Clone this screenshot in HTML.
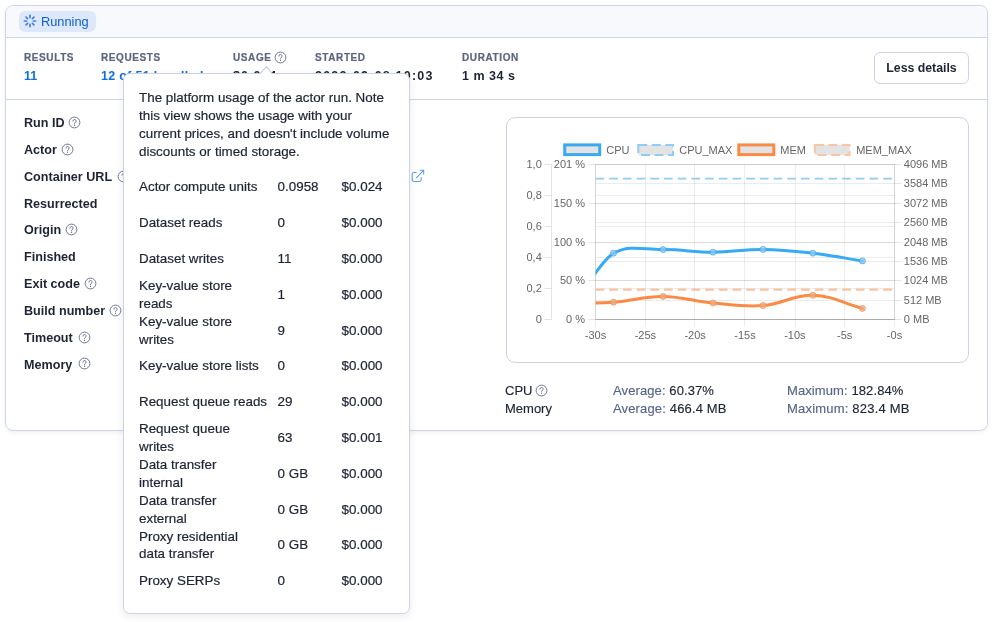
<!DOCTYPE html>
<html><head><meta charset="utf-8">
<style>
*{box-sizing:border-box;margin:0;padding:0}
html,body{width:993px;height:622px;overflow:hidden;background:#fff;font-family:"Liberation Sans",sans-serif;color:#1d2433}
.a{position:absolute;white-space:nowrap}
.lbl{font-size:10px;font-weight:bold;color:#5b6580;letter-spacing:0.6px;line-height:12px;-webkit-text-stroke:0.2px #5b6580}
.val{font-size:12.5px;font-weight:bold;line-height:15px}
.blue{color:#0b6fde}
.rowl{font-size:12.6px;font-weight:bold;line-height:15px;color:#1d2433}
.help{position:absolute;width:13px;height:13px}
.ch{font-size:11px;color:#666;line-height:13px}
.st{font-size:13px;line-height:16px;color:#1d2433;-webkit-text-stroke:0.15px currentColor}
.st .g{color:#55658a}
.tt{position:absolute;font-size:13.4px;line-height:18px;color:#1d2433;white-space:nowrap;-webkit-text-stroke:0.2px #1d2433}
</style></head><body><div style="position:absolute;left:0;top:0;width:993px;height:622px;will-change:transform">
<div class="a" style="left:5px;top:5px;width:983px;height:426px;border:1px solid #ced5ea;border-radius:8px;background:#fff;box-shadow:0 2px 4px rgba(30,40,70,.06);overflow:hidden">
  <div class="a" style="left:0;top:0;width:981px;height:32px;background:#f8f9fc;border-bottom:1px solid #ced5ea"></div>
  <div class="a" style="left:0;top:93px;width:981px;height:1px;background:#ced5ea"></div>
</div>
<div class="a" style="left:19px;top:11px;width:77px;height:21px;background:#dde8fb;border-radius:6px"></div>
<svg class="a" style="left:22px;top:13px" width="16" height="16" viewBox="0 0 16 16"><g stroke="#4680da" stroke-width="1.7" stroke-linecap="round"><line x1="8.00" y1="4.60" x2="8.00" y2="2.40"/><line x1="10.40" y1="5.60" x2="11.96" y2="4.04"/><line x1="11.40" y1="8.00" x2="13.60" y2="8.00"/><line x1="10.40" y1="10.40" x2="11.96" y2="11.96"/><line x1="8.00" y1="11.40" x2="8.00" y2="13.60"/><line x1="5.60" y1="10.40" x2="4.04" y2="11.96"/><line x1="4.60" y1="8.00" x2="2.40" y2="8.00"/><line x1="5.60" y1="5.60" x2="4.04" y2="4.04"/></g></svg>
<div class="a" style="left:41px;top:13.5px;font-size:12.8px;line-height:15px;color:#0c5fd8">Running</div>

<div class="a lbl" style="left:24px;top:52px">RESULTS</div>
<div class="a val blue" style="left:24px;top:69px">11</div>
<div class="a lbl" style="left:101px;top:52px">REQUESTS</div>
<div class="a val blue" style="left:101px;top:69px;letter-spacing:0.3px">12 of 51 handled</div>
<div class="a lbl" style="left:233px;top:52px">USAGE</div>
<svg class="help" style="left:273.7px;top:50.6px" viewBox="0 0 13 13"><circle cx="6.5" cy="6.5" r="5.4" fill="none" stroke="#6b7694" stroke-width="1"/><path d="M4.9 5.1a1.6 1.6 0 1 1 2.2 1.5c-.5.2-.6.5-.6 1v.3" fill="none" stroke="#6b7694" stroke-width="1" stroke-linecap="round"/><circle cx="6.5" cy="9.4" r=".55" fill="#6b7694"/></svg>
<div class="a val" style="left:233px;top:69px;letter-spacing:1px">$0.024</div>
<div class="a lbl" style="left:315px;top:52px">STARTED</div>
<div class="a val" style="left:315px;top:69px;letter-spacing:1.2px">2022-09-08 10:03</div>
<div class="a lbl" style="left:462px;top:52px">DURATION</div>
<div class="a val" style="left:462px;top:69px;letter-spacing:0.5px">1 m 34 s</div>
<div class="a" style="left:874px;top:52px;width:95px;height:32px;border:1px solid #ccd3e6;border-radius:6px;font-size:12.3px;font-weight:bold;line-height:30px;text-align:center;color:#1d2433">Less details</div>

<div class="a rowl" style="left:24px;top:116px">Run ID</div>
<div class="a rowl" style="left:24px;top:143px">Actor</div>
<div class="a rowl" style="left:24px;top:170px">Container URL</div>
<div class="a rowl" style="left:24px;top:197px">Resurrected</div>
<div class="a rowl" style="left:24px;top:223px">Origin</div>
<div class="a rowl" style="left:24px;top:250px">Finished</div>
<div class="a rowl" style="left:24px;top:277px">Exit code</div>
<div class="a rowl" style="left:24px;top:304px">Build number</div>
<div class="a rowl" style="left:24px;top:331px">Timeout</div>
<div class="a rowl" style="left:24px;top:358px">Memory</div>
<svg class="help" style="left:67.7px;top:115.7px" viewBox="0 0 13 13"><circle cx="6.5" cy="6.5" r="5.4" fill="none" stroke="#6b7694" stroke-width="1"/><path d="M4.9 5.1a1.6 1.6 0 1 1 2.2 1.5c-.5.2-.6.5-.6 1v.3" fill="none" stroke="#6b7694" stroke-width="1" stroke-linecap="round"/><circle cx="6.5" cy="9.4" r=".55" fill="#6b7694"/></svg>
<svg class="help" style="left:60.6px;top:142.7px" viewBox="0 0 13 13"><circle cx="6.5" cy="6.5" r="5.4" fill="none" stroke="#6b7694" stroke-width="1"/><path d="M4.9 5.1a1.6 1.6 0 1 1 2.2 1.5c-.5.2-.6.5-.6 1v.3" fill="none" stroke="#6b7694" stroke-width="1" stroke-linecap="round"/><circle cx="6.5" cy="9.4" r=".55" fill="#6b7694"/></svg>
<svg class="help" style="left:117.0px;top:169.5px" viewBox="0 0 13 13"><circle cx="6.5" cy="6.5" r="5.4" fill="none" stroke="#6b7694" stroke-width="1"/><path d="M4.9 5.1a1.6 1.6 0 1 1 2.2 1.5c-.5.2-.6.5-.6 1v.3" fill="none" stroke="#6b7694" stroke-width="1" stroke-linecap="round"/><circle cx="6.5" cy="9.4" r=".55" fill="#6b7694"/></svg>
<svg class="help" style="left:64.7px;top:222.7px" viewBox="0 0 13 13"><circle cx="6.5" cy="6.5" r="5.4" fill="none" stroke="#6b7694" stroke-width="1"/><path d="M4.9 5.1a1.6 1.6 0 1 1 2.2 1.5c-.5.2-.6.5-.6 1v.3" fill="none" stroke="#6b7694" stroke-width="1" stroke-linecap="round"/><circle cx="6.5" cy="9.4" r=".55" fill="#6b7694"/></svg>
<svg class="help" style="left:83.6px;top:276.8px" viewBox="0 0 13 13"><circle cx="6.5" cy="6.5" r="5.4" fill="none" stroke="#6b7694" stroke-width="1"/><path d="M4.9 5.1a1.6 1.6 0 1 1 2.2 1.5c-.5.2-.6.5-.6 1v.3" fill="none" stroke="#6b7694" stroke-width="1" stroke-linecap="round"/><circle cx="6.5" cy="9.4" r=".55" fill="#6b7694"/></svg>
<svg class="help" style="left:108.7px;top:303.8px" viewBox="0 0 13 13"><circle cx="6.5" cy="6.5" r="5.4" fill="none" stroke="#6b7694" stroke-width="1"/><path d="M4.9 5.1a1.6 1.6 0 1 1 2.2 1.5c-.5.2-.6.5-.6 1v.3" fill="none" stroke="#6b7694" stroke-width="1" stroke-linecap="round"/><circle cx="6.5" cy="9.4" r=".55" fill="#6b7694"/></svg>
<svg class="help" style="left:77.8px;top:330.7px" viewBox="0 0 13 13"><circle cx="6.5" cy="6.5" r="5.4" fill="none" stroke="#6b7694" stroke-width="1"/><path d="M4.9 5.1a1.6 1.6 0 1 1 2.2 1.5c-.5.2-.6.5-.6 1v.3" fill="none" stroke="#6b7694" stroke-width="1" stroke-linecap="round"/><circle cx="6.5" cy="9.4" r=".55" fill="#6b7694"/></svg>
<svg class="help" style="left:77.8px;top:356.6px" viewBox="0 0 13 13"><circle cx="6.5" cy="6.5" r="5.4" fill="none" stroke="#6b7694" stroke-width="1"/><path d="M4.9 5.1a1.6 1.6 0 1 1 2.2 1.5c-.5.2-.6.5-.6 1v.3" fill="none" stroke="#6b7694" stroke-width="1" stroke-linecap="round"/><circle cx="6.5" cy="9.4" r=".55" fill="#6b7694"/></svg>
<svg class="a" style="left:410px;top:168px" width="16" height="16" viewBox="0 0 16 16"><g fill="none" stroke="#5e9eeb" stroke-width="1.05" stroke-linecap="round" stroke-linejoin="round"><path d="M6 4.5H4a1.8 1.8 0 0 0-1.8 1.8v5.4A1.8 1.8 0 0 0 4 13.5h5.4a1.8 1.8 0 0 0 1.8-1.8V9.5"/><path d="M6.5 9.7L13.7 2.3M10 2.3h3.7v3.9"/></g></svg>

<div class="a" style="left:506px;top:117px;width:463px;height:246px;border:1px solid #ccd3e6;border-radius:9px"></div>
<!--CHARTSTART--><svg class="a" style="left:0;top:0" width="993" height="622" viewBox="0 0 993 622" font-family="Liberation Sans, sans-serif" font-size="11" fill="#666">
<defs><clipPath id="pc"><rect x="595.5" y="150" width="299" height="169.5"/></clipPath></defs>
<line x1="595.5" y1="164.5" x2="894.5" y2="164.5" stroke="rgba(0,0,0,0.075)" stroke-width="1"/>
<line x1="595.5" y1="183.5" x2="894.5" y2="183.5" stroke="rgba(0,0,0,0.075)" stroke-width="1"/>
<line x1="595.5" y1="203.5" x2="894.5" y2="203.5" stroke="rgba(0,0,0,0.075)" stroke-width="1"/>
<line x1="595.5" y1="222.5" x2="894.5" y2="222.5" stroke="rgba(0,0,0,0.075)" stroke-width="1"/>
<line x1="595.5" y1="242.5" x2="894.5" y2="242.5" stroke="rgba(0,0,0,0.075)" stroke-width="1"/>
<line x1="595.5" y1="261.5" x2="894.5" y2="261.5" stroke="rgba(0,0,0,0.075)" stroke-width="1"/>
<line x1="595.5" y1="280.5" x2="894.5" y2="280.5" stroke="rgba(0,0,0,0.075)" stroke-width="1"/>
<line x1="595.5" y1="300.5" x2="894.5" y2="300.5" stroke="rgba(0,0,0,0.075)" stroke-width="1"/>
<line x1="595.5" y1="319.5" x2="894.5" y2="319.5" stroke="rgba(0,0,0,0.075)" stroke-width="1"/>
<line x1="595.5" y1="319.5" x2="894.5" y2="319.5" stroke="rgba(0,0,0,0.075)" stroke-width="1"/>
<line x1="595.5" y1="280.5" x2="894.5" y2="280.5" stroke="rgba(0,0,0,0.075)" stroke-width="1"/>
<line x1="595.5" y1="242.5" x2="894.5" y2="242.5" stroke="rgba(0,0,0,0.075)" stroke-width="1"/>
<line x1="595.5" y1="203.5" x2="894.5" y2="203.5" stroke="rgba(0,0,0,0.075)" stroke-width="1"/>
<line x1="595.5" y1="164.5" x2="894.5" y2="164.5" stroke="rgba(0,0,0,0.075)" stroke-width="1"/>
<line x1="595.5" y1="164.5" x2="894.5" y2="164.5" stroke="rgba(0,0,0,0.075)" stroke-width="1"/>
<line x1="595.5" y1="195.5" x2="894.5" y2="195.5" stroke="rgba(0,0,0,0.075)" stroke-width="1"/>
<line x1="595.5" y1="226.5" x2="894.5" y2="226.5" stroke="rgba(0,0,0,0.075)" stroke-width="1"/>
<line x1="595.5" y1="257.5" x2="894.5" y2="257.5" stroke="rgba(0,0,0,0.075)" stroke-width="1"/>
<line x1="595.5" y1="288.5" x2="894.5" y2="288.5" stroke="rgba(0,0,0,0.075)" stroke-width="1"/>
<line x1="595.5" y1="319.5" x2="894.5" y2="319.5" stroke="rgba(0,0,0,0.075)" stroke-width="1"/>
<line x1="595.5" y1="164.5" x2="595.5" y2="326.5" stroke="rgba(0,0,0,0.075)" stroke-width="1"/>
<line x1="645.5" y1="164.5" x2="645.5" y2="326.5" stroke="rgba(0,0,0,0.075)" stroke-width="1"/>
<line x1="694.5" y1="164.5" x2="694.5" y2="326.5" stroke="rgba(0,0,0,0.075)" stroke-width="1"/>
<line x1="744.5" y1="164.5" x2="744.5" y2="326.5" stroke="rgba(0,0,0,0.075)" stroke-width="1"/>
<line x1="795.5" y1="164.5" x2="795.5" y2="326.5" stroke="rgba(0,0,0,0.075)" stroke-width="1"/>
<line x1="844.5" y1="164.5" x2="844.5" y2="326.5" stroke="rgba(0,0,0,0.075)" stroke-width="1"/>
<line x1="894.5" y1="164.5" x2="894.5" y2="326.5" stroke="rgba(0,0,0,0.075)" stroke-width="1"/>
<line x1="544.5" y1="164.5" x2="551.5" y2="164.5" stroke="rgba(0,0,0,0.1)"/>
<line x1="544.5" y1="195.5" x2="551.5" y2="195.5" stroke="rgba(0,0,0,0.1)"/>
<line x1="544.5" y1="226.5" x2="551.5" y2="226.5" stroke="rgba(0,0,0,0.1)"/>
<line x1="544.5" y1="257.5" x2="551.5" y2="257.5" stroke="rgba(0,0,0,0.1)"/>
<line x1="544.5" y1="288.5" x2="551.5" y2="288.5" stroke="rgba(0,0,0,0.1)"/>
<line x1="544.5" y1="319.5" x2="551.5" y2="319.5" stroke="rgba(0,0,0,0.1)"/>
<line x1="588.5" y1="319.5" x2="595.5" y2="319.5" stroke="rgba(0,0,0,0.1)"/>
<line x1="588.5" y1="280.5" x2="595.5" y2="280.5" stroke="rgba(0,0,0,0.1)"/>
<line x1="588.5" y1="242.5" x2="595.5" y2="242.5" stroke="rgba(0,0,0,0.1)"/>
<line x1="588.5" y1="203.5" x2="595.5" y2="203.5" stroke="rgba(0,0,0,0.1)"/>
<line x1="588.5" y1="164.5" x2="595.5" y2="164.5" stroke="rgba(0,0,0,0.1)"/>
<line x1="894.5" y1="164.5" x2="901.5" y2="164.5" stroke="rgba(0,0,0,0.1)"/>
<line x1="894.5" y1="183.5" x2="901.5" y2="183.5" stroke="rgba(0,0,0,0.1)"/>
<line x1="894.5" y1="203.5" x2="901.5" y2="203.5" stroke="rgba(0,0,0,0.1)"/>
<line x1="894.5" y1="222.5" x2="901.5" y2="222.5" stroke="rgba(0,0,0,0.1)"/>
<line x1="894.5" y1="242.5" x2="901.5" y2="242.5" stroke="rgba(0,0,0,0.1)"/>
<line x1="894.5" y1="261.5" x2="901.5" y2="261.5" stroke="rgba(0,0,0,0.1)"/>
<line x1="894.5" y1="280.5" x2="901.5" y2="280.5" stroke="rgba(0,0,0,0.1)"/>
<line x1="894.5" y1="300.5" x2="901.5" y2="300.5" stroke="rgba(0,0,0,0.1)"/>
<line x1="894.5" y1="319.5" x2="901.5" y2="319.5" stroke="rgba(0,0,0,0.1)"/>
<line x1="551.5" y1="164.5" x2="551.5" y2="319.5" stroke="rgba(0,0,0,0.1)"/>
<line x1="595.5" y1="164.5" x2="595.5" y2="319.5" stroke="rgba(0,0,0,0.1)" stroke-width="1"/>
<line x1="894.5" y1="164.5" x2="894.5" y2="319.5" stroke="rgba(0,0,0,0.1)" stroke-width="1"/>
<line x1="595.5" y1="319.5" x2="894.5" y2="319.5" stroke="rgba(0,0,0,0.16)" stroke-width="1"/>
<text x="541.8" y="167.90" text-anchor="end">1,0</text>
<text x="541.8" y="198.90" text-anchor="end">0,8</text>
<text x="541.8" y="229.90" text-anchor="end">0,6</text>
<text x="541.8" y="260.90" text-anchor="end">0,4</text>
<text x="541.8" y="291.90" text-anchor="end">0,2</text>
<text x="541.8" y="322.90" text-anchor="end">0</text>
<text x="585" y="322.90" text-anchor="end">0 %</text>
<text x="585" y="284.34" text-anchor="end">50 %</text>
<text x="585" y="245.79" text-anchor="end">100 %</text>
<text x="585" y="207.23" text-anchor="end">150 %</text>
<text x="585" y="167.90" text-anchor="end">201 %</text>
<text x="903.8" y="168.00">4096 MB</text>
<text x="903.8" y="187.38">3584 MB</text>
<text x="903.8" y="206.75">3072 MB</text>
<text x="903.8" y="226.12">2560 MB</text>
<text x="903.8" y="245.50">2048 MB</text>
<text x="903.8" y="264.88">1536 MB</text>
<text x="903.8" y="284.25">1024 MB</text>
<text x="903.8" y="303.62">512 MB</text>
<text x="903.8" y="323.00">0 MB</text>
<text x="595.50" y="339" text-anchor="middle">-30s</text>
<text x="645.33" y="339" text-anchor="middle">-25s</text>
<text x="695.17" y="339" text-anchor="middle">-20s</text>
<text x="745.00" y="339" text-anchor="middle">-15s</text>
<text x="794.83" y="339" text-anchor="middle">-10s</text>
<text x="844.67" y="339" text-anchor="middle">-5s</text>
<text x="894.50" y="339" text-anchor="middle">-0s</text>
<line x1="595.5" y1="178.6" x2="894.5" y2="178.6" stroke="#8fcdf5" stroke-width="1.7" stroke-dasharray="8.7 5"/>
<line x1="595.5" y1="289.6" x2="894.5" y2="289.6" stroke="#f8c4a0" stroke-width="2.2" stroke-dasharray="8.7 5"/>
<g clip-path="url(#pc)" fill="none" stroke-linecap="round" stroke-linejoin="round">
<path d="M563.80 303.00C595.50 283.08 595.50 265.71 613.50 253.20C629.95 244.35 643.25 249.80 663.10 249.60C683.05 249.40 693.04 252.24 713.00 252.20C733.00 252.16 743.01 249.20 763.00 249.40C782.97 249.60 793.03 250.90 812.90 253.20C832.79 255.50 842.60 257.82 862.40 260.90" stroke="#38aaf3" stroke-width="3"/>
<path d="M563.80 303.00C595.50 302.68 595.50 303.52 613.50 302.20C633.41 300.88 643.28 296.24 663.10 296.40C683.08 296.56 692.97 301.16 713.00 303.00C732.93 304.84 743.19 307.13 763.00 305.60C783.15 304.05 793.07 294.74 812.90 295.30C832.83 295.86 842.60 303.16 862.40 308.40" stroke="#fb8a44" stroke-width="3"/>
</g>
<circle cx="613.5" cy="253.2" r="3" fill="rgba(150,200,235,0.75)" stroke="rgba(56,170,243,0.7)" stroke-width="1"/>
<circle cx="663.1" cy="249.6" r="3" fill="rgba(150,200,235,0.75)" stroke="rgba(56,170,243,0.7)" stroke-width="1"/>
<circle cx="713.0" cy="252.2" r="3" fill="rgba(150,200,235,0.75)" stroke="rgba(56,170,243,0.7)" stroke-width="1"/>
<circle cx="763.0" cy="249.4" r="3" fill="rgba(150,200,235,0.75)" stroke="rgba(56,170,243,0.7)" stroke-width="1"/>
<circle cx="812.9" cy="253.2" r="3" fill="rgba(150,200,235,0.75)" stroke="rgba(56,170,243,0.7)" stroke-width="1"/>
<circle cx="862.4" cy="260.9" r="3" fill="rgba(150,200,235,0.75)" stroke="rgba(56,170,243,0.7)" stroke-width="1"/>
<circle cx="613.5" cy="302.2" r="3" fill="rgba(230,175,140,0.75)" stroke="rgba(251,138,68,0.7)" stroke-width="1"/>
<circle cx="663.1" cy="296.4" r="3" fill="rgba(230,175,140,0.75)" stroke="rgba(251,138,68,0.7)" stroke-width="1"/>
<circle cx="713.0" cy="303.0" r="3" fill="rgba(230,175,140,0.75)" stroke="rgba(251,138,68,0.7)" stroke-width="1"/>
<circle cx="763.0" cy="305.6" r="3" fill="rgba(230,175,140,0.75)" stroke="rgba(251,138,68,0.7)" stroke-width="1"/>
<circle cx="812.9" cy="295.3" r="3" fill="rgba(230,175,140,0.75)" stroke="rgba(251,138,68,0.7)" stroke-width="1"/>
<circle cx="862.4" cy="308.4" r="3" fill="rgba(230,175,140,0.75)" stroke="rgba(251,138,68,0.7)" stroke-width="1"/>
<rect x="564.7" y="144.9" width="35" height="9.7" fill="#e3e3e3" stroke="#38aaf3" stroke-width="3"/>
<text x="606.2" y="153.9">CPU</text>
<rect x="638.3" y="145.1" width="34.7" height="9.8" fill="#e3e3e3" stroke="#8fcdf5" stroke-width="2" stroke-dasharray="9 4.5"/>
<text x="679.2" y="153.9">CPU_MAX</text>
<rect x="738.8" y="144.9" width="35" height="9.7" fill="#e3e3e3" stroke="#fb8a44" stroke-width="3"/>
<text x="780.3" y="153.9">MEM</text>
<rect x="814.9" y="145.1" width="34.7" height="9.8" fill="#e3e3e3" stroke="#f9c6a3" stroke-width="2" stroke-dasharray="9 4.5"/>
<text x="856.2" y="153.9">MEM_MAX</text>
</svg><!--CHARTEND-->

<div class="a st" style="left:505px;top:383px">CPU</div>
<svg class="help" style="left:535.0px;top:383.6px" viewBox="0 0 13 13"><circle cx="6.5" cy="6.5" r="5.4" fill="none" stroke="#6b7694" stroke-width="1"/><path d="M4.9 5.1a1.6 1.6 0 1 1 2.2 1.5c-.5.2-.6.5-.6 1v.3" fill="none" stroke="#6b7694" stroke-width="1" stroke-linecap="round"/><circle cx="6.5" cy="9.4" r=".55" fill="#6b7694"/></svg>
<div class="a st" style="left:505px;top:401px">Memory</div>
<div class="a st" style="left:613px;top:383px;letter-spacing:0.1px"><span class="g">Average:</span> 60.37%</div>
<div class="a st" style="left:613px;top:401px;letter-spacing:0.15px"><span class="g">Average:</span> 466.4 MB</div>
<div class="a st" style="left:787px;top:383px;letter-spacing:0.1px"><span class="g">Maximum:</span> 182.84%</div>
<div class="a st" style="left:787px;top:401px;letter-spacing:0.2px"><span class="g">Maximum:</span> 823.4 MB</div>

<div class="a" style="left:123px;top:73px;width:287px;height:541px;background:#fff;border:1px solid #ccd3e6;border-radius:7px;box-shadow:0 3px 8px rgba(20,30,60,.08)"></div>
<svg class="a" style="left:255px;top:62px" width="23" height="14" viewBox="0 0 23 14"><path d="M4.6 12.3L11.5 4.6L17.7 12.3Z" fill="#fff"/><path d="M5.2 11.6L11.5 4.6L17.1 11.6" fill="none" stroke="#c8d0e6" stroke-width="1.25" stroke-linejoin="miter"/></svg>
<div class="tt" style="left:139px;top:89.30px">The platform usage of the actor run. Note</div>
<div class="tt" style="left:139px;top:107.23px">this view shows the usage with your</div>
<div class="tt" style="left:139px;top:125.16px">current prices, and doesn&#39;t include volume</div>
<div class="tt" style="left:139px;top:143.09px">discounts or timed storage.</div>
<div class="tt" style="left:139px;top:178.45px">Actor compute units</div>
<div class="tt" style="left:277.6px;top:178.45px">0.0958</div>
<div class="tt" style="left:341.6px;top:178.45px">$0.024</div>
<div class="tt" style="left:139px;top:214.25px">Dataset reads</div>
<div class="tt" style="left:277.6px;top:214.25px">0</div>
<div class="tt" style="left:341.6px;top:214.25px">$0.000</div>
<div class="tt" style="left:139px;top:250.05px">Dataset writes</div>
<div class="tt" style="left:277.6px;top:250.05px">11</div>
<div class="tt" style="left:341.6px;top:250.05px">$0.000</div>
<div class="tt" style="left:139px;top:276.90px">Key-value store</div>
<div class="tt" style="left:139px;top:294.80px">reads</div>
<div class="tt" style="left:277.6px;top:285.85px">1</div>
<div class="tt" style="left:341.6px;top:285.85px">$0.000</div>
<div class="tt" style="left:139px;top:312.70px">Key-value store</div>
<div class="tt" style="left:139px;top:330.60px">writes</div>
<div class="tt" style="left:277.6px;top:321.65px">9</div>
<div class="tt" style="left:341.6px;top:321.65px">$0.000</div>
<div class="tt" style="left:139px;top:357.45px">Key-value store lists</div>
<div class="tt" style="left:277.6px;top:357.45px">0</div>
<div class="tt" style="left:341.6px;top:357.45px">$0.000</div>
<div class="tt" style="left:139px;top:393.25px">Request queue reads</div>
<div class="tt" style="left:277.6px;top:393.25px">29</div>
<div class="tt" style="left:341.6px;top:393.25px">$0.000</div>
<div class="tt" style="left:139px;top:420.10px">Request queue</div>
<div class="tt" style="left:139px;top:438.00px">writes</div>
<div class="tt" style="left:277.6px;top:429.05px">63</div>
<div class="tt" style="left:341.6px;top:429.05px">$0.001</div>
<div class="tt" style="left:139px;top:455.90px">Data transfer</div>
<div class="tt" style="left:139px;top:473.80px">internal</div>
<div class="tt" style="left:277.6px;top:464.85px">0 GB</div>
<div class="tt" style="left:341.6px;top:464.85px">$0.000</div>
<div class="tt" style="left:139px;top:491.70px">Data transfer</div>
<div class="tt" style="left:139px;top:509.60px">external</div>
<div class="tt" style="left:277.6px;top:500.65px">0 GB</div>
<div class="tt" style="left:341.6px;top:500.65px">$0.000</div>
<div class="tt" style="left:139px;top:527.50px">Proxy residential</div>
<div class="tt" style="left:139px;top:545.40px">data transfer</div>
<div class="tt" style="left:277.6px;top:536.45px">0 GB</div>
<div class="tt" style="left:341.6px;top:536.45px">$0.000</div>
<div class="tt" style="left:139px;top:572.25px">Proxy SERPs</div>
<div class="tt" style="left:277.6px;top:572.25px">0</div>
<div class="tt" style="left:341.6px;top:572.25px">$0.000</div>
</div></body></html>
